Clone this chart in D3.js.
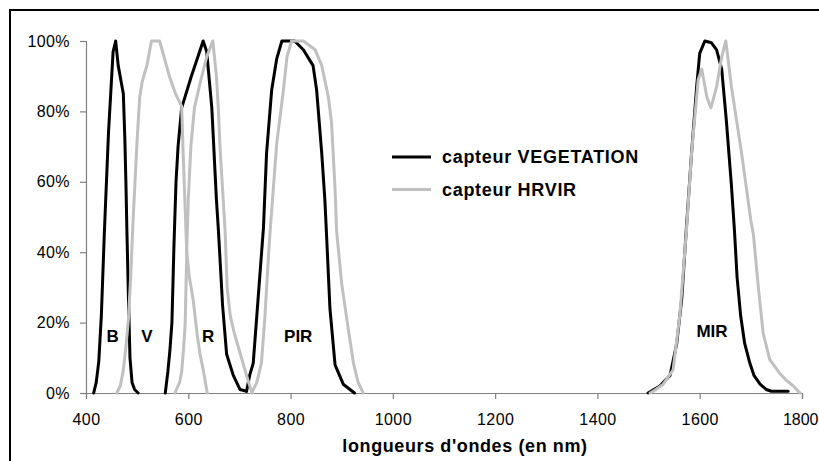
<!DOCTYPE html>
<html>
<head>
<meta charset="utf-8">
<script src="https://cdn.jsdelivr.net/npm/d3@7"></script>
<style>
  html, body { margin: 0; padding: 0; background: #fff; }
  svg { display: block; }
  text { font-family: "Liberation Sans", Arial, sans-serif; }
</style>
</head>
<body>
<svg id="chart" width="819" height="461"></svg>
<script>
// ---- data: [wavelength nm, relative response %] ----
const vegB   = [[415,0],[420,3],[425,9],[430,22],[436,46],[444,74],[453,97],[458,100],[463,93],[473,85],[476,72],[478,60],[480,46],[483,27],[486,10],[490,3],[495,1],[502,0]];
const vegR   = [[555,0],[560,6],[564,12],[568,20],[572,42],[576,60],[580,70],[587,81],[606,90],[620,96],[629,100],[636,97],[646,81],[655,55],[659,46],[667,25],[675,11],[688,5],[701,1],[714,0.5]];
const vegPIR = [[714,0.5],[720,5],[727,8.5],[734,22],[747,47],[753,68],[763,86],[773,95],[783,100],[808,100],[825,97.5],[844,93],[851,86],[861,68],[867,55],[870,46],[877,24],[887,8],[903,2.5],[925,0]];
const vegMIR = [[1499,0],[1522,2],[1542,5],[1555,14],[1565,27],[1574,47],[1584,68],[1594,87],[1600,96.5],[1610,100],[1623,99.5],[1633,97.5],[1643,92],[1652,77.5],[1662,59],[1668,46],[1673,33],[1680,22],[1688,14],[1698,8.5],[1706,5],[1718,2.5],[1730,1],[1740,0.5],[1773,0.5]];

const hrvV   = [[460,0],[467,2],[473,6.5],[478,13],[483,21],[488,35],[492,49],[500,72],[505,84],[510,88.5],[519,93],[528,100],[544,100],[563,90],[575,85],[587,81.5],[590,68],[594,52],[597,40],[602,33],[610,26],[617,17],[623,11],[630,6],[637,0]];
const hrvR   = [[574,0],[583,3],[587,6],[591,13],[594,20],[597,40],[600,55],[605,70],[612,81],[623,88],[636,95.5],[648,100],[655,90],[659,80],[662,70],[667,58],[672,46],[676,30],[682,22],[690,17],[700,12],[710,7],[718,3],[725,0]];
const hrvPIR = [[724,0],[734,3],[743,8.5],[750,22],[756,37],[760,46],[773,71],[786,86],[793,95.5],[802,100],[825,100],[848,97.5],[861,93],[874,84],[880,77],[887,58],[890,46],[900,31],[913,18],[923,8.5],[932,3],[942,0]];
const hrvMIR = [[1503,0],[1512,0.8],[1528,2.4],[1548,6.6],[1561,22],[1574,46],[1584,68],[1597,89],[1604,92],[1614,84],[1622,81],[1633,87],[1643,95.5],[1651,100],[1662,87],[1682,68],[1700,49],[1705,45],[1714,31],[1724,17],[1737,9.5],[1757,5.5],[1770,3.5],[1783,2],[1796,0]];

const xTicks = [400,600,800,1000,1200,1400,1600,1800];
const yTicks = [0,20,40,60,80,100];
const seriesNames = ["capteur VEGETATION","capteur HRVIR"];
const bandNames = ["B","V","R","PIR","MIR"];
const bandAt    = [[452,14.6],[519,14.6],[639,14.6],[815,14.6],[1624,16]]; // label anchor in data units
const xTitle = "longueurs d'ondes (en nm)";

// ---- drawing ----
const svg = d3.select("#chart");
const colors = ["#000000", "#c0c0c0"];

svg.append("rect").attr("x",10).attr("y",10).attr("width",820).attr("height",480)
   .attr("fill","#fff").attr("stroke","#000").attr("stroke-width",2);

const x = d3.scaleLinear().domain([400,1800]).range([86,802]);
const y = d3.scaleLinear().domain([0,100]).range([393,41]);

const yAxis = svg.append("g").attr("transform","translate(86,0)")
  .call(d3.axisLeft(y).tickValues(yTicks).tickSize(6).tickPadding(10).tickFormat(d => d + "%"));
const xAxis = svg.append("g").attr("transform","translate(0,393)")
  .call(d3.axisBottom(x).tickValues(xTicks).tickSize(6).tickPadding(15).tickFormat(d3.format("d")));
[xAxis, yAxis].forEach(g => {
  g.select(".domain").attr("stroke","#808080").attr("stroke-width",1.2);
  g.selectAll(".tick line").attr("stroke","#808080").attr("stroke-width",1.2);
  g.selectAll(".tick text").attr("fill","#000").style("font-size","16px").style("letter-spacing","0.4px");
});
yAxis.selectAll(".tick text").attr("x",-16);
// last x label sits against the right edge of the picture
xAxis.selectAll(".tick text").filter(d => d === xTicks[xTicks.length-1])
  .attr("text-anchor","end").attr("x", 16).style("letter-spacing","0px");

const line = d3.line().x(d => x(d[0])).y(d => y(d[1]));

const groups = [[vegB,vegR,vegPIR,vegMIR],[hrvV,hrvR,hrvPIR,hrvMIR]];
groups.forEach((bands, i) => {
  bands.forEach(b => {
    svg.append("path").datum(b).attr("d", line)
      .attr("fill","none").attr("stroke", colors[i]).attr("stroke-width",3)
      .attr("stroke-linejoin","round").attr("stroke-linecap","round");
  });
});

// band labels
bandNames.forEach((n, i) => {
  svg.append("text").attr("x", x(bandAt[i][0])).attr("y", y(bandAt[i][1]))
    .attr("text-anchor","middle").style("font-size","17px").style("font-weight","bold").text(n);
});

// legend
seriesNames.forEach((n, i) => {
  const ly = 157 + i*32.5;
  svg.append("line").attr("x1",392).attr("x2",431).attr("y1",ly).attr("y2",ly)
    .attr("stroke",colors[i]).attr("stroke-width",3);
  svg.append("text").attr("x",442).attr("y",ly+6).style("font-size","18px").style("font-weight","bold")
    .style("letter-spacing","0.7px").text(n);
});

// x title
svg.append("text").attr("x",465).attr("y",452).attr("text-anchor","middle")
  .style("font-size","18px").style("font-weight","bold").style("letter-spacing","0.6px").text(xTitle);
</script>
</body>
</html>
